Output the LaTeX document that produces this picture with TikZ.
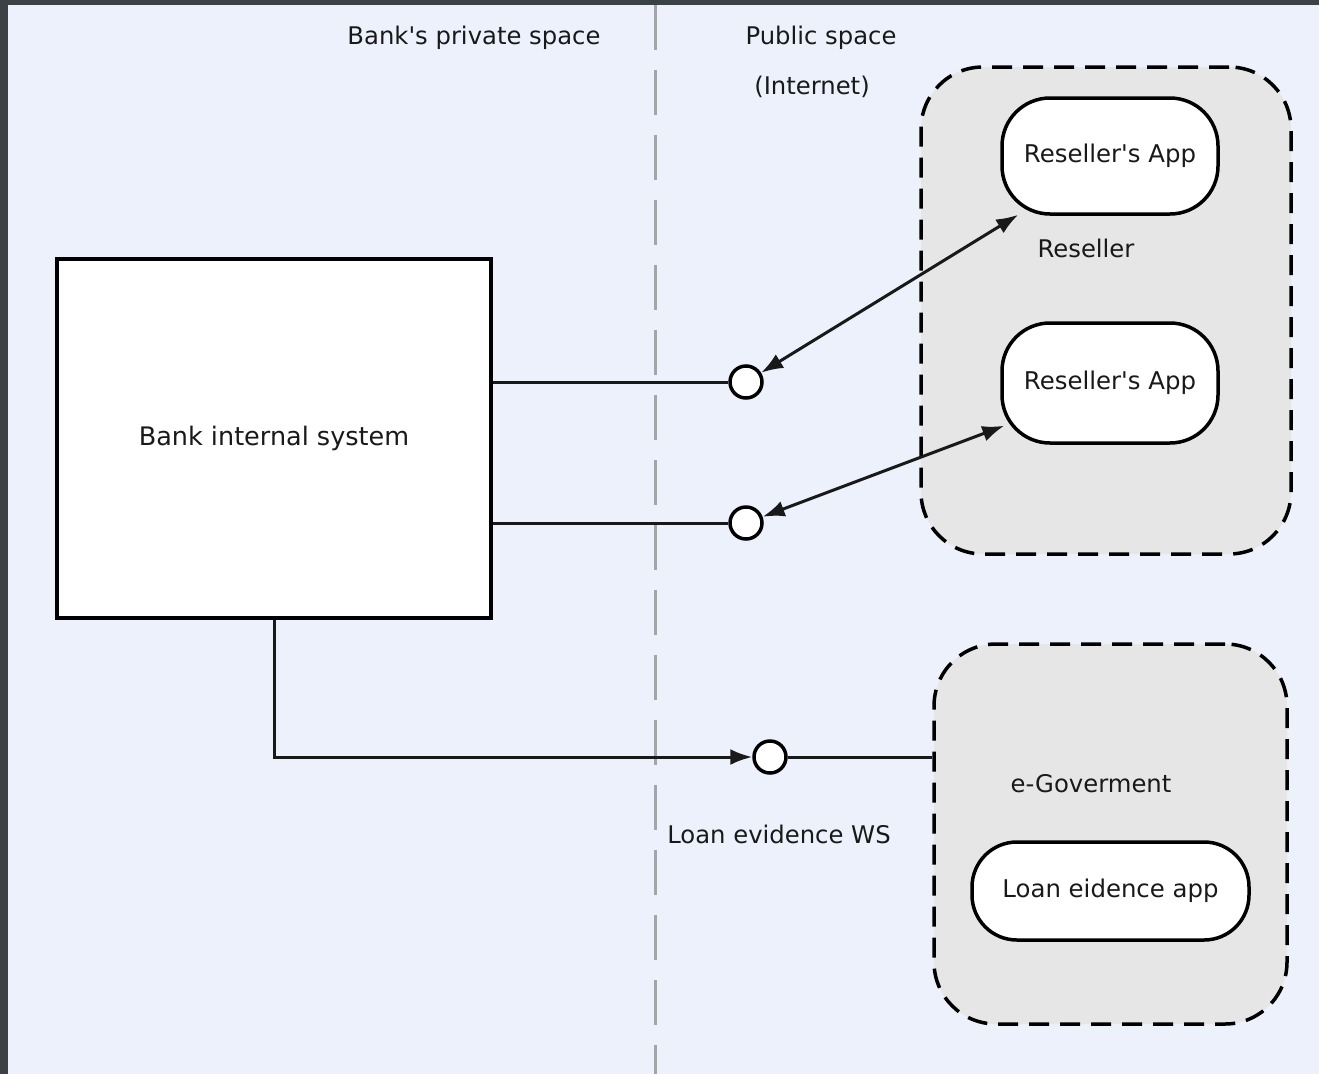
\documentclass[tikz,border=0pt]{standalone}
\usepackage{xcolor}
\usepackage{fontspec}
\setmainfont{DejaVu Sans}
\usepackage{tikz}
\usetikzlibrary{arrows.meta, positioning, calc}
\definecolor{pagebg}{RGB}{237, 241, 252}
\definecolor{framedark}{RGB}{58, 66, 69}
\definecolor{groupgray}{RGB}{230, 230, 230}
\definecolor{darktext}{RGB}{25, 25, 25}
\definecolor{sepgray}{RGB}{165, 165, 168}

\tikzset{
    lbl/.style={font=\fontsize{24.3}{28}\selectfont, text=darktext, inner sep=0pt},
    sysbox/.style={draw=black, fill=white, line width=3.5pt, rectangle,
                   font=\fontsize{25.5}{30}\selectfont, text=darktext},
    appbox/.style={draw=black, fill=white, line width=3.5pt, rounded corners=48pt,
                   font=\fontsize{24.4}{28}\selectfont, text=darktext},
    zonebox/.style={draw=black, fill=groupgray, line width=3.5pt, rounded corners=62pt,
                    dash pattern=on 20pt off 11pt},
    wsport/.style={circle, draw=black, fill=white, line width=3.5pt,
                   minimum size=32pt, inner sep=0pt},
    link/.style={draw=darktext, line width=3pt},
    tip/.style={-{Latex[length=22pt, width=16pt]}},
    bitip/.style={{Latex[length=22pt, width=16pt]}-{Latex[length=22pt, width=16pt]}},
}

\begin{document}
\begin{tikzpicture}[x=1pt, y=-1pt]
    % page frame
    \useasboundingbox (0,0) rectangle (1319,1074);
    \fill[framedark] (0,0) rectangle (1319,1074);
    \fill[pagebg] (8,5) rectangle (1319,1074);

    % private / public border
    \draw[sepgray, line width=3pt, dash pattern=on 45pt off 20pt] (655,5) -- (655,1074);
    \node[lbl] (privlbl) at (474,38) {Bank\textquotesingle s private space};
    \node[lbl] (publbl) at (821,38) {Public space};
    \node[lbl] (netlbl) at (812,87) {(Internet)};

    % reseller zone
    \node[zonebox, minimum width=370pt, minimum height=487pt] (reseller) at (1106,310.5) {};
    \node[appbox, minimum width=216pt, minimum height=116pt] (app1) at (1110,156) {Reseller\textquotesingle s App};
    \node[lbl] (resellerlbl) at (1086,248) {Reseller};
    \node[appbox, minimum width=216pt, minimum height=120pt] (app2) at (1110,383) {Reseller\textquotesingle s App};

    % e-government zone
    \node[zonebox, minimum width=353pt, minimum height=380pt] (egov) at (1110.5,834) {};
    \node[lbl] (egovlbl) at (1091,784) {e-Goverment};
    \node[appbox, rounded corners=45pt, minimum width=277pt, minimum height=98pt] (loanapp) at (1110.5,891) {Loan eidence app};

    % bank side
    \node[sysbox, minimum width=434pt, minimum height=359pt] (bank) at (274,438.5) {Bank internal system};

    % service endpoints
    \node[wsport] (ws1) at (746,382) {};
    \node[wsport] (ws2) at (746,523) {};
    \node[wsport] (ws3) at (770,757) {};
    \node[lbl] (wslbl) at (779,834) {Loan evidence WS};

    % connectors
    \draw[link] (bank.east |- ws1.west) -- (ws1.west);
    \draw[link] (bank.east |- ws2.west) -- (ws2.west);
    \draw[link, tip] (bank.south) |- (ws3.west);
    \draw[link] (ws3.east) -- (ws3.east -| egov.west);
    \draw[link, bitip] (ws1) -- ([xshift=18pt, yshift=1pt]app1.south west);
    \draw[link, bitip] (ws2) -- ([xshift=4pt, yshift=19pt]app2.south west);
\end{tikzpicture}
\end{document}
